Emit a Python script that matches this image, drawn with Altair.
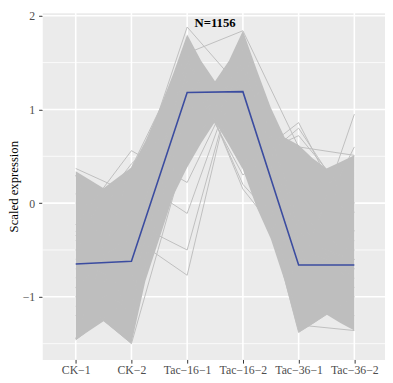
import json
import altair as alt
import pandas as pd

# ---- data ----
categories = ["CK−1", "CK−2", "Tac−16−1", "Tac−16−2", "Tac−36−1", "Tac−36−2"]
cat_index = [0, 1, 2, 3, 4, 5]

mean_profile = [-0.65, -0.62, 1.18, 1.19, -0.66, -0.66]

# envelope of the densely overplotted grey band (position index along the x axis)
band_pos = [0, 0.25, 0.5, 0.75, 1, 1.25, 1.5, 1.75, 2, 2.25, 2.5, 2.75, 3,
            3.25, 3.5, 3.75, 4, 4.25, 4.5, 4.75, 5]
band_low = [-1.46, -1.36, -1.26, -1.38, -1.50, -0.83, -0.38, 0.08, 0.38, 0.64,
            0.87, 0.62, 0.36, -0.05, -0.38, -0.83, -1.38, -1.29, -1.19, -1.28, -1.36]
band_high = [0.34, 0.25, 0.16, 0.27, 0.38, 0.66, 1.00, 1.38, 1.80, 1.52, 1.30,
             1.52, 1.84, 1.42, 1.02, 0.70, 0.62, 0.48, 0.37, 0.44, 0.51]

# individual gene profiles (outliers visible outside the dense band + typical ones)
gene_profiles = {
    "g01": [0.37, 0.10, 1.88, 1.20, -0.40, -0.50],
    "g02": [-0.23, 0.56, 0.22, 1.45, -0.10, -0.60],
    "g03": [-0.35, 0.42, 0.95, 1.10, -0.50, -0.70],
    "g04": [-0.90, -0.36, -0.77, 1.75, -0.30, -0.80],
    "g05": [-0.80, -0.20, -0.50, 1.65, -0.20, -0.90],
    "g06": [-0.30, 0.28, -0.11, 1.55, -0.40, -0.60],
    "g07": [-1.20, -0.50, 1.54, 0.20, -0.45, -0.60],
    "g08": [-0.60, -0.90, 1.60, 0.15, -0.60, -0.70],
    "g09": [-0.50, -0.70, 1.50, 0.40, 0.86, -0.30],
    "g10": [-0.70, -0.40, 1.40, 0.30, 0.80, -0.10],
    "g11": [-0.40, -0.80, 1.30, 0.45, 0.72, 0.00],
    "g12": [-1.10, -0.90, 1.10, 1.30, -0.78, 0.95],
    "g13": [-0.90, -1.10, 1.00, 1.20, -0.60, 0.60],
    "g14": [-1.46, -1.00, 0.80, 1.40, -1.00, -1.20],
    "g15": [-1.00, -1.50, 0.60, 1.30, -1.30, -1.36],
    "g16": [0.30, -1.30, 1.20, 0.90, -1.38, -1.00],
    "g17": [-1.45, 0.38, 1.60, 1.84, 0.60, 0.51],
    "g18": [0.10, -0.60, 1.30, 1.00, -0.20, -0.40],
}

title_text = "N=1156"
y_major = [-1, 0, 1, 2]
y_minor = [-1.5, -0.5, 0.5, 1.5]

# ---- tables ----
band_df = pd.DataFrame({"pos": band_pos, "low": band_low, "high": band_high})
gene_rows = []
for g, vals in gene_profiles.items():
    for i, v in zip(cat_index, vals):
        gene_rows.append({"gene": g, "pos": i, "value": v})
genes_df = pd.DataFrame(gene_rows)
mean_df = pd.DataFrame({"pos": cat_index, "value": mean_profile})
ymaj_df = pd.DataFrame({"v": y_major})
ymin_df = pd.DataFrame({"v": y_minor})
xgrid_df = pd.DataFrame({"pos": cat_index})
label_df = pd.DataFrame({"pos": [2.5], "value": [1.92], "t": [title_text]})

XDOM = [-0.6, 5.55]
YDOM = [-1.669, 2.031]
FONT = "Liberation Serif"
GREY = "#BEBEBE"

label_expr = json.dumps(categories, ensure_ascii=False) + "[datum.value]"

x_axis = alt.Axis(values=cat_index, labelExpr=label_expr, grid=False, domain=False,
                  tickColor="#333333", tickSize=3.7, tickWidth=1, labelColor="#4D4D4D",
                  labelFont=FONT, labelFontSize=12, labelPadding=2, labelAngle=0)
y_axis = alt.Axis(values=y_major, format="d", grid=False, domain=False,
                  tickColor="#333333", tickSize=3.7, tickWidth=1, labelColor="#4D4D4D",
                  labelFont=FONT, labelFontSize=12, labelPadding=4,
                  titleFont=FONT, titleFontSize=13, titleFontWeight="normal",
                  titleColor="black", titlePadding=2)


def xenc(field):
    return alt.X(f"{field}:Q", scale=alt.Scale(domain=XDOM, nice=False, zero=False),
                 axis=x_axis, title=None)


def yenc(field):
    return alt.Y(f"{field}:Q", scale=alt.Scale(domain=YDOM, nice=False, zero=False),
                 axis=y_axis, title="Scaled expression")


minor = alt.Chart(ymin_df).mark_rule(color="white", strokeWidth=0.8).encode(y=yenc("v"))
major_y = alt.Chart(ymaj_df).mark_rule(color="white", strokeWidth=1.6).encode(y=yenc("v"))
major_x = alt.Chart(xgrid_df).mark_rule(color="white", strokeWidth=1.6).encode(x=xenc("pos"))

band = alt.Chart(band_df).mark_area(color=GREY, opacity=1).encode(
    x=xenc("pos"), y=yenc("low"), y2="high"
)
lines = alt.Chart(genes_df).mark_line(color=GREY, strokeWidth=1).encode(
    x=xenc("pos"), y=yenc("value"), detail="gene:N"
)
mean_line = alt.Chart(mean_df).mark_line(color="#3B4CA0", strokeWidth=1.6).encode(
    x=xenc("pos"), y=yenc("value")
)
label = alt.Chart(label_df).mark_text(font=FONT, fontWeight="bold", fontSize=13,
                                      color="black").encode(
    x=xenc("pos"), y=yenc("value"), text="t:N"
)

chart = alt.layer(minor, major_y, major_x, band, lines, mean_line, label).properties(
    width=350, height=354,
    autosize=alt.AutoSizeParams(type="none"),
    padding={"left": 35, "top": 1, "right": 0, "bottom": 18},
).configure_view(fill="#EBEBEB", stroke="transparent")

chart.save("out.html", embed_options={"renderer": "svg", "actions": False})
